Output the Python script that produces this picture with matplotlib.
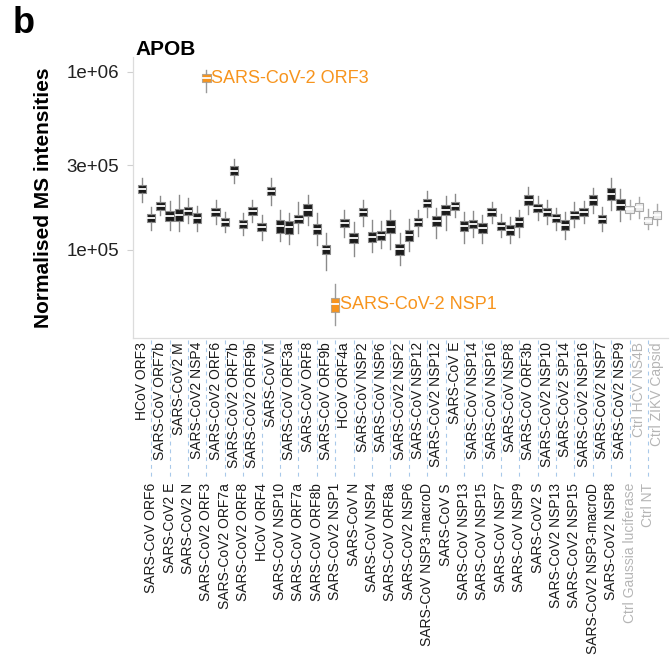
import matplotlib
matplotlib.use("Agg")
import matplotlib.pyplot as plt
import matplotlib.transforms as mtransforms
from matplotlib.ticker import FixedLocator, FixedFormatter
import numpy as np

plt.rcParams['font.family'] = ['Liberation Sans', 'DejaVu Sans']

categories = [
    "HCoV ORF3", "SARS-CoV ORF6", "SARS-CoV ORF7b", "SARS-CoV2 E", "SARS-CoV2 M",
    "SARS-CoV2 N", "SARS-CoV2 NSP4", "SARS-CoV2 ORF3", "SARS-CoV2 ORF6", "SARS-CoV2 ORF7a",
    "SARS-CoV2 ORF7b", "SARS-CoV2 ORF8", "SARS-CoV2 ORF9b", "HCoV ORF4", "SARS-CoV M",
    "SARS-CoV NSP10", "SARS-CoV ORF3a", "SARS-CoV ORF7a", "SARS-CoV ORF8", "SARS-CoV ORF8b",
    "SARS-CoV ORF9b", "SARS-CoV2 NSP1", "HCoV ORF4a", "SARS-CoV N", "SARS-CoV NSP2",
    "SARS-CoV NSP4", "SARS-CoV NSP6", "SARS-CoV ORF8a", "SARS-CoV2 NSP2", "SARS-CoV2 NSP6",
    "SARS-CoV NSP12", "SARS-CoV NSP3-macroD", "SARS-CoV2 NSP12", "SARS-CoV S", "SARS-CoV E",
    "SARS-CoV NSP13", "SARS-CoV NSP14", "SARS-CoV NSP15", "SARS-CoV NSP16", "SARS-CoV NSP7",
    "SARS-CoV NSP8", "SARS-CoV NSP9", "SARS-CoV ORF3b", "SARS-CoV2 S", "SARS-CoV2 NSP10",
    "SARS-CoV2 NSP13", "SARS-CoV2 SP14", "SARS-CoV2 NSP15", "SARS-CoV2 NSP16", "SARS-CoV2 NSP3-macroD",
    "SARS-CoV2 NSP7", "SARS-CoV2 NSP8", "SARS-CoV2 NSP9", "Ctrl Gaussia luciferase", "Ctrl HCV NS4B",
    "Ctrl NT", "Ctrl ZIKV Capsid",
]

# values in thousands
median_k = [220, 151, 177, 155, 157, 166, 151, 925, 163, 144,
            278, 140, 166, 135, 215, 137, 135, 149, 168, 131,
            101, 49.5, 142, 117, 163, 118, 121, 135, 101, 121,
            144, 184, 146, 168, 177, 137, 140, 133, 163, 137,
            130, 144, 191, 172, 163, 151, 138, 157, 163, 191,
            149, 206, 179, 170, 175, 146, 157]
q3_k = [232, 159, 186, 166, 170, 175, 161, 974, 172, 151,
        296, 147, 175, 142, 226, 147, 146, 157, 181, 140,
        107, 53.5, 149, 125, 172, 126, 128, 147, 108, 130,
        151, 194, 155, 179, 186, 146, 147, 142, 172, 144,
        138, 153, 204, 181, 172, 159, 147, 166, 172, 204,
        157, 223, 194, 177, 184, 153, 166]
q1_k = [209, 144, 168, 146, 146, 157, 142, 878, 155, 137,
        264, 133, 157, 128, 204, 125, 123, 142, 155, 123,
        95, 44.8, 135, 110, 155, 111, 114, 125, 94, 112,
        137, 175, 137, 157, 168, 128, 133, 125, 155, 130,
        121, 135, 179, 163, 155, 144, 130, 149, 155, 179,
        142, 191, 168, 161, 166, 140, 149]
hi_k = [254, 175, 201, 189, 204, 196, 177, 1026, 191, 163,
        325, 161, 191, 157, 254, 168, 161, 186, 204, 161,
        125, 64.4, 168, 144, 191, 147, 146, 168, 125, 149,
        168, 215, 172, 201, 206, 163, 166, 157, 186, 159,
        153, 168, 226, 201, 191, 172, 163, 186, 189, 223,
        175, 254, 220, 191, 199, 170, 181]
lo_k = [186, 130, 157, 130, 128, 142, 128, 772, 140, 126,
        238, 121, 144, 114, 179, 112, 108, 125, 138, 107,
        77, 37.9, 118, 93, 137, 97, 103, 101, 82, 99,
        120, 153, 117, 130, 153, 110, 118, 110, 142, 118,
        110, 118, 159, 147, 140, 130, 115, 135, 142, 161,
        128, 168, 146, 149, 151, 131, 138]

groups = ["virus"] * 57
groups[7] = "hit"
groups[21] = "hit"
for i in range(53, 57):
    groups[i] = "ctrl"

hit_labels = {7: "SARS-CoV-2 ORF3", 21: "SARS-CoV-2 NSP1"}

y_ticks = [1e5, 3e5, 1e6]
y_tick_labels = ["1e+05", "3e+05", "1e+06"]

ORANGE = "#f7941d"
styles = {
    "virus": dict(face="#1b1b1b", edge="#8a8a8a", whisk="#8a8a8a", med="#ffffff"),
    "hit": dict(face=ORANGE, edge="#b8a58c", whisk="#9a9a9a", med="#ffffff"),
    "ctrl": dict(face="#eeeeee", edge="#a8a8a8", whisk="#a8a8a8", med="#ffffff"),
}

fig = plt.figure(figsize=(6.72, 6.57), dpi=100)
W, H = 672, 657
ax_left, ax_right, ax_top, ax_bot = 133, 668, 57, 338
ax = fig.add_axes([ax_left / W, 1 - ax_bot / H, (ax_right - ax_left) / W, (ax_bot - ax_top) / H])

n = len(categories)
xs = np.arange(1, n + 1)
for i in range(n):
    st = styles[groups[i]]
    stats = [dict(med=median_k[i] * 1e3, q1=q1_k[i] * 1e3, q3=q3_k[i] * 1e3,
                  whislo=lo_k[i] * 1e3, whishi=hi_k[i] * 1e3, fliers=[])]
    ax.bxp(stats, positions=[xs[i]], widths=0.9, showcaps=False, showfliers=False,
           patch_artist=True,
           boxprops=dict(facecolor=st["face"], edgecolor=st["edge"], linewidth=0.8),
           whiskerprops=dict(color=st["whisk"], linewidth=1.0),
           medianprops=dict(color=st["med"], linewidth=1.3),
           manage_ticks=False, zorder=3)

for i, lab in hit_labels.items():
    ax.text(xs[i] + 0.55, median_k[i] * 1e3, lab, color=ORANGE, fontsize=13,
            ha="left", va="center", zorder=4)

ax.set_yscale("log")
ax.set_ylim(3.2e4, 1.214e6)
ax.set_xlim(0.02, 58.17)
ax.yaxis.set_major_locator(FixedLocator(y_ticks))
ax.yaxis.set_major_formatter(FixedFormatter(y_tick_labels))
ax.yaxis.set_minor_locator(FixedLocator([]))
ax.tick_params(axis="y", labelsize=13.5, colors="#d0d0d0", labelcolor="#222222",
               length=4, width=0.8, pad=6)
ax.set_xticks([])
for s in ["top", "right"]:
    ax.spines[s].set_visible(False)
for s in ["left", "bottom"]:
    ax.spines[s].set_color("#dcdcdc")
    ax.spines[s].set_linewidth(0.9)

ax.set_ylabel("Normalised MS intensities", fontsize=15, fontweight="bold")
ax.yaxis.set_label_coords(-0.15, 0.5)

trans = mtransforms.blended_transform_factory(ax.transData, ax.transAxes)
top_y = (ax_bot - 342) / (ax_bot - ax_top)
bot_y = (ax_bot - 483) / (ax_bot - ax_top)
for i, lab in enumerate(categories):
    col = "#b5b5b5" if groups[i] == "ctrl" else "#1a1a1a"
    if i % 2 == 0:
        ax.text(xs[i], top_y, lab, rotation=90, ha="center", va="top",
                fontsize=10, color=col, transform=trans, clip_on=False)
    else:
        ax.plot([xs[i], xs[i]], [(ax_bot - 340) / (ax_bot - ax_top), bot_y + 0.012],
                transform=trans, clip_on=False, color="#a9c9ea", linewidth=0.8,
                linestyle=(0, (3.5, 3.5)))
        ax.text(xs[i], bot_y, lab, rotation=90, ha="center", va="top",
                fontsize=10, color=col, transform=trans, clip_on=False)

fig.text(135 / W, 1 - 55 / H, "APOB", fontsize=15, fontweight="bold", ha="left", va="baseline")
fig.text(13 / W, 1 - 33 / H, "b", fontsize=26, fontweight="bold", ha="left", va="baseline")

fig.savefig("out.png", dpi=100)
